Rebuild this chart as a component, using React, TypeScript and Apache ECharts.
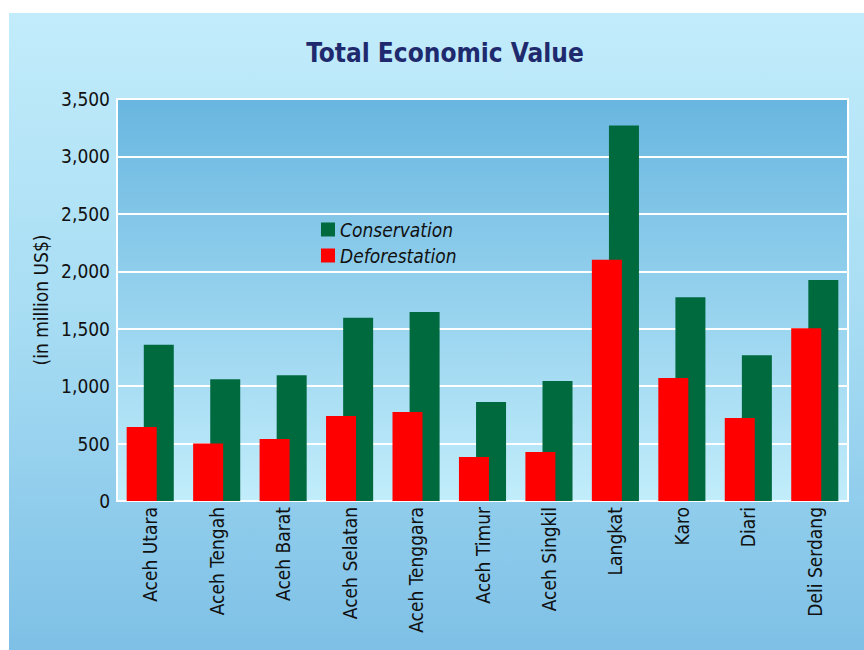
import React, { useEffect, useRef } from "react";
import * as echarts from "echarts";

const categories = [
  "Aceh Utara",
  "Aceh Tengah",
  "Aceh Barat",
  "Aceh Selatan",
  "Aceh Tenggara",
  "Aceh Timur",
  "Aceh Singkil",
  "Langkat",
  "Karo",
  "Diari",
  "Deli Serdang",
];
const conservation = [1360, 1060, 1095, 1595, 1645, 862, 1045, 3270, 1775, 1270, 1925];
const deforestation = [645, 500, 540, 740, 775, 383, 427, 2100, 1070, 723, 1505];
const yTicks = { min: 0, max: 3500, interval: 500 };

const FONT = "'Liberation Sans Narrow', 'DejaVu Sans Condensed', 'Arial Narrow', sans-serif";

export default function App() {
  const ref = useRef<HTMLDivElement>(null);
  useEffect(() => {
    if (!ref.current) return;
    const chart = echarts.init(ref.current, null, { renderer: "svg" });
    chart.setOption({
      animation: false,
      graphic: [
        {
          type: "rect",
          z: -10,
          silent: true,
          shape: { x: 9, y: 13, width: 855, height: 637 },
          style: {
            fill: new echarts.graphic.LinearGradient(0, 0, 0, 1, [
              { offset: 0, color: "#c2ecfb" },
              { offset: 0.5, color: "#a6dcf3" },
              { offset: 1, color: "#7ec0e6" },
            ]),
          },
        },
      ],
      title: {
        text: "Total Economic Value",
        left: 440,
        textAlign: "center",
        top: 35,
        textStyle: { fontFamily: FONT, fontSize: 26, fontWeight: "bold", color: "#1f2a6e" },
      },
      legend: {
        data: ["Conservation", "Deforestation"],
        orient: "vertical",
        left: 316,
        top: 215,
        itemWidth: 14,
        itemHeight: 14,
        itemGap: 7,
        icon: "rect",
        textStyle: { fontFamily: FONT, fontSize: 19, fontStyle: "italic", color: "#111" },
      },
      grid: {
        left: 117,
        right: 16,
        top: 99,
        bottom: 149,
        show: true,
        borderColor: "#ffffff",
        borderWidth: 2,
        backgroundColor: new echarts.graphic.LinearGradient(0, 0, 0, 1, [
          { offset: 0, color: "#68b6e0" },
          { offset: 1, color: "#c2edfb" },
        ]),
      },
      xAxis: {
        type: "category",
        data: categories,
        axisLine: { show: false },
        axisTick: { show: false },
        axisLabel: {
          rotate: 90,
          interval: 0,
          margin: 6,
          fontFamily: FONT,
          fontSize: 19,
          color: "#111",
        },
      },
      yAxis: {
        type: "value",
        min: yTicks.min,
        max: yTicks.max,
        interval: yTicks.interval,
        name: "(in million US$)",
        nameLocation: "middle",
        nameGap: 62,
        nameTextStyle: { fontFamily: FONT, fontSize: 19, color: "#111" },
        axisLine: { show: false },
        axisTick: { show: false },
        axisLabel: {
          margin: 7,
          fontFamily: FONT,
          fontSize: 19,
          color: "#111",
          formatter: (v: number) => v.toLocaleString("en-US"),
        },
        splitLine: { lineStyle: { color: "#ffffff", width: 2 } },
      },
      series: [
        {
          name: "Deforestation",
          type: "bar",
          data: deforestation,
          barWidth: 30,
          barGap: "-43%",
          z: 3,
          itemStyle: { color: "#ff0000" },
        },
        {
          name: "Conservation",
          type: "bar",
          data: conservation,
          barWidth: 30,
          barGap: "-43%",
          z: 2,
          itemStyle: { color: "#006a3f" },
        },
      ],
    });
    return () => chart.dispose();
  }, []);
  return (
    <div
      ref={ref}
      style={{ position: "absolute", left: 0, top: 0, width: 864, height: 650, background: "#fff" }}
    />
  );
}
